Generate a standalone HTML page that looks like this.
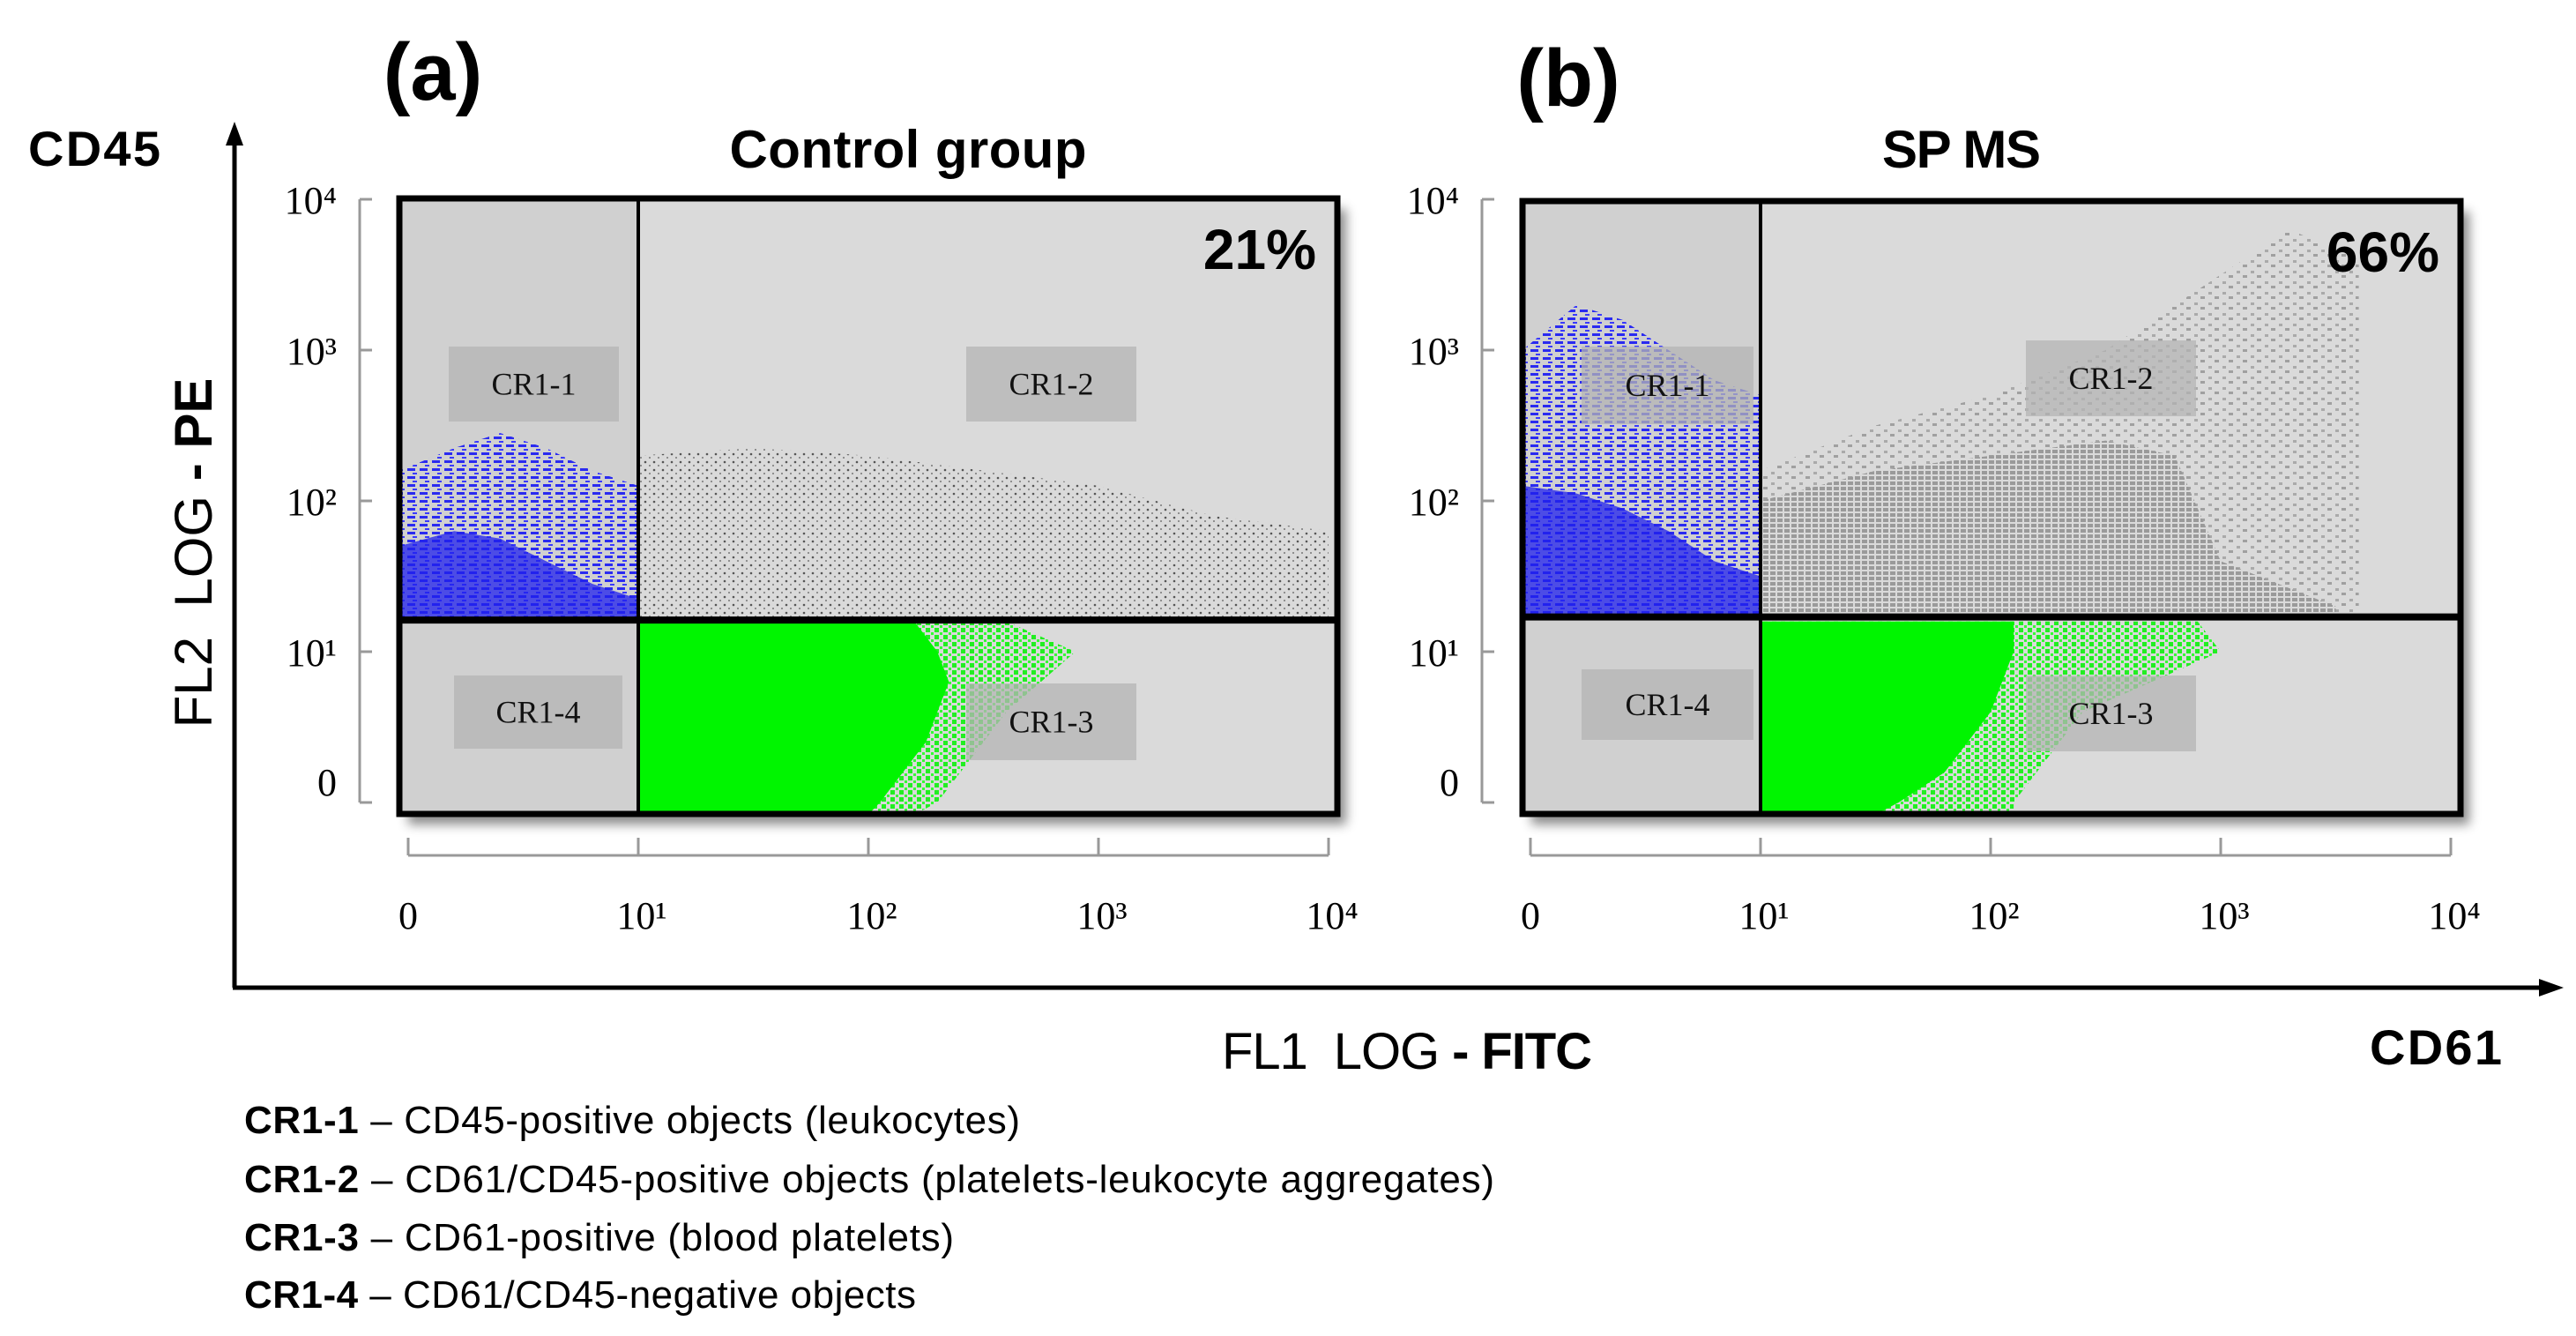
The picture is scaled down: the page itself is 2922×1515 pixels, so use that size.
<!DOCTYPE html>
<html><head><meta charset="utf-8"><style>
html,body{margin:0;padding:0;background:#fff}
svg{display:block}
.t{font-family:"Liberation Sans",sans-serif}
.s{font-family:"Liberation Serif",serif}
</style></head><body>
<svg id="fig" width="2922" height="1515" viewBox="0 0 2922 1515" xmlns="http://www.w3.org/2000/svg">
<defs>
<filter id="sh" x="-5%" y="-5%" width="115%" height="115%"><feDropShadow dx="10" dy="12" stdDeviation="6" flood-color="#000" flood-opacity="0.45"/></filter>
<pattern id="blueDash" width="14" height="9" patternUnits="userSpaceOnUse"><rect x="0" y="0" width="9" height="3" fill="#2a2af0"/><rect x="6" y="5" width="5" height="2" fill="#3a3aff"/></pattern>
<pattern id="grayDot" width="10" height="9" patternUnits="userSpaceOnUse"><circle cx="2" cy="2" r="1.3" fill="#555"/><circle cx="7" cy="6" r="1" fill="#777"/></pattern>
<pattern id="grayDash" width="8" height="6" patternUnits="userSpaceOnUse"><rect x="0" y="0" width="6" height="4" fill="#9a9a9a"/></pattern>
<pattern id="graySparse" width="16" height="12" patternUnits="userSpaceOnUse"><rect x="0" y="0" width="5" height="3" fill="#a0a0a0"/><rect x="9" y="7" width="4" height="3" fill="#aaa"/></pattern>
<pattern id="greenFringe" width="10" height="8" patternUnits="userSpaceOnUse"><rect x="0" y="0" width="5" height="5" fill="#22ee22"/><rect x="6" y="5" width="3" height="3" fill="#33ff33"/></pattern>
</defs>

<text class="t" x="491" y="113" font-size="92" font-weight="bold" text-anchor="middle">(a)</text>
<text class="t" x="1779" y="120" font-size="92" font-weight="bold" text-anchor="middle">(b)</text>
<text class="t" x="32" y="188" font-size="56" font-weight="bold" textLength="150">CD45</text>
<text class="t" x="1030" y="190" font-size="60" font-weight="bold" text-anchor="middle" textLength="405">Control group</text>
<text class="t" x="2225" y="190" font-size="60" font-weight="bold" text-anchor="middle" textLength="180">SP MS</text>

<g>
<line x1="266" y1="1120" x2="266" y2="155" stroke="#000" stroke-width="5"/>
<polygon points="266,138 256,165 276,165" fill="#000"/>
<line x1="264" y1="1120" x2="2890" y2="1120" stroke="#000" stroke-width="5"/>
<polygon points="2908,1120 2880,1110 2880,1130" fill="#000"/>
</g>
<text class="t" transform="translate(240,627) rotate(-90)" font-size="60" text-anchor="middle">FL2&#160;&#160;LOG <tspan font-weight="bold">- PE</tspan></text>
<text class="t" x="1386" y="1212" font-size="58" textLength="420">FL1&#160;&#160;LOG <tspan font-weight="bold">- FITC</tspan></text>
<text class="t" x="2688" y="1207" font-size="56" font-weight="bold" textLength="150">CD61</text>

<g id="panelA"></g>
<g id="panelB"></g>

<g class="t" font-size="44">
<text x="277" y="1285" textLength="880"><tspan font-weight="bold">CR1-1</tspan> – CD45-positive objects (leukocytes)</text>
<text x="277" y="1352" textLength="1418"><tspan font-weight="bold">CR1-2</tspan> – CD61/CD45-positive objects (platelets-leukocyte aggregates)</text>
<text x="277" y="1418" textLength="805"><tspan font-weight="bold">CR1-3</tspan> – CD61-positive (blood platelets)</text>
<text x="277" y="1483" textLength="762"><tspan font-weight="bold">CR1-4</tspan> – CD61/CD45-negative objects</text>
</g>
</svg>
<script>
// ---- data (log10 decades) ----
const tickDecades = [0, 1, 2, 3, 4];
const tickLabels = ["0", "10¹", "10²", "10³", "10⁴"];
const gateX = 1.0;
const gateYA = 1.21;
const gateYB = 1.23;
const pctA = "21%";
const pctB = "66%";
// green (CR1-3) edges per y level
const greenLevels = [1.2, 1.0, 0.8, 0.6, 0.4, 0.2, 0.0, -0.08];
const greenA_solid = [2.2, 2.3, 2.35, 2.3, 2.25, 2.15, 2.05, 2.0];
const greenA_fringe = [2.6, 2.9, 2.75, 2.6, 2.5, 2.4, 2.3, 2.2];
const greenB_solid = [2.1, 2.1, 2.05, 2.0, 1.9, 1.8, 1.6, 1.5];
const greenB_fringe = [2.9, 3.0, 2.7, 2.4, 2.3, 2.2, 2.1, 2.1];
// blue (CR1-1) top edges per x
const blueX = [0, 0.2, 0.4, 0.6, 0.8, 1.0];
const blueA_top = [2.2, 2.35, 2.45, 2.35, 2.2, 2.1];
const blueA_dense = [1.7, 1.8, 1.75, 1.6, 1.45, 1.35];
const blueB_top = [3.0, 3.3, 3.2, 3.0, 2.8, 2.7];
const blueB_dense = [2.1, 2.05, 1.95, 1.8, 1.6, 1.5];
// gray (CR1-2) top edges per x
const grayA_x = [1, 1.5, 2, 2.5, 3, 3.5, 4];
const grayA_top = [2.3, 2.35, 2.3, 2.2, 2.1, 1.9, 1.8];
const grayB_x = [1, 1.5, 2, 2.5, 2.8, 3, 3.5];
const grayB_dense = [2.0, 2.2, 2.3, 2.4, 2.3, 1.6, 1.3];
const grayB_sx = [1, 1.5, 2, 2.5, 3, 3.3, 3.6];
const grayB_sparse = [2.2, 2.5, 2.7, 3.0, 3.5, 3.8, 3.6];

const NS = "http://www.w3.org/2000/svg";
function yS(d){ return 910 - d*171; }
function mk(tag, attrs, parent){ const e=document.createElementNS(NS,tag); for(const k in attrs) e.setAttribute(k, attrs[k]); parent.appendChild(e); return e; }

function drawPanel(g, x0, box, gy, green, fringe, blueTop, blueDense, grayLayers, pct, labels){
  const xS = d => x0 + d*261;
  const [bx1, by1, bx2, by2] = box;
  const c = mk("rect",{x:bx1,y:by1,width:bx2-bx1,height:by2-by1,fill:"#dadada",filter:"url(#sh)"},g);
  
  
  const lc = mk("rect",{x:bx1,y:by1,width:xS(gateX)-bx1,height:by2-by1,fill:"#d0d0d0"},g);
  
  
  grayLayers.forEach(L => {
    let pts = L.x.map((d,i)=>xS(d)+","+yS(L.top[i]));
    pts.push(xS(L.x[L.x.length-1])+","+yS(gy)); pts.push(xS(L.x[0])+","+yS(gy));
    const p = mk("polygon",{points:pts.join(" "),fill:L.fill},g);
    
    
  });
  [[blueTop,"url(#blueDash)"],[blueDense,"#2020ee"]].forEach(([arr,fill],k)=>{
    let pts = blueX.map((d,i)=>xS(d===0?(bx1-x0)/261:d)+","+yS(arr[i]));
    pts.push(xS(gateX)+","+yS(gy)); pts.push(bx1+","+yS(gy));
    const p = mk("polygon",{points:pts.join(" "),fill:fill,opacity:k?0.75:1},g);
    
    
  });
  [[fringe,"url(#greenFringe)"],[green,"#00f500"]].forEach(([arr,fill])=>{
    let pts = [xS(gateX)+","+yS(greenLevels[0])];
    greenLevels.forEach((l,i)=>pts.push(xS(arr[i])+","+yS(l)));
    pts.push(xS(gateX)+","+yS(greenLevels[greenLevels.length-1]));
    const p = mk("polygon",{points:pts.join(" "),fill:fill},g);
    
    
  });
  const gl1 = mk("line",{x1:xS(gateX),y1:by1,x2:xS(gateX),y2:by2,stroke:"#000","stroke-width":4},g);
  
  
  const gl2 = mk("line",{x1:bx1,y1:yS(gy),x2:bx2,y2:yS(gy),stroke:"#000","stroke-width":8},g);
  
  
  const fr = mk("rect",{x:bx1,y:by1,width:bx2-bx1,height:by2-by1,fill:"none",stroke:"#000","stroke-width":7},g);
  
  
  labels.forEach(L=>{
    const r = mk("rect",{x:L[1],y:L[2],width:L[3]-L[1],height:L[4]-L[2],fill:"#b4b4b4",opacity:0.75},g);
    
    
    const t = mk("text",{x:(L[1]+L[3])/2,y:(L[2]+L[4])/2+12,"font-size":36,"text-anchor":"middle",class:"s",fill:"#111"},g);
    t.textContent = L[0];
    
    
  });
  const pt = mk("text",{x:bx2-24,y:by1+80,"font-size":64,"font-weight":"bold","text-anchor":"end",class:"t"},g);
  pt.textContent = pct;
  
  
  const ya = xS(0) - 55;
  const yl = mk("line",{x1:ya,y1:yS(4),x2:ya,y2:yS(0),stroke:"#999","stroke-width":3},g);
  
  
  tickDecades.forEach((d,i)=>{
    const tk = mk("line",{x1:ya,y1:yS(d),x2:ya+14,y2:yS(d),stroke:"#999","stroke-width":3},g);
    
    
    const t = mk("text",{x:ya-26,y:yS(d)+(i===0?-8:16),"font-size":44,"text-anchor":"end",class:"s"},g);
    t.textContent = tickLabels[i];
    
    
  });
  const xl = mk("line",{x1:xS(0),y1:970,x2:xS(4),y2:970,stroke:"#999","stroke-width":3},g);
  
  
  tickDecades.forEach((d,i)=>{
    const tk = mk("line",{x1:xS(d),y1:970,x2:xS(d),y2:950,stroke:"#999","stroke-width":3},g);
    
    
    const t = mk("text",{x:xS(d)+(i?4:0),y:1053,"font-size":44,"text-anchor":"middle",class:"s"},g);
    t.textContent = tickLabels[i];
    
    
  });
}

drawPanel(document.getElementById("panelA"), 463, [453,225,1517,923], gateYA, greenA_solid, greenA_fringe, blueA_top, blueA_dense,
  [{x:grayA_x, top:grayA_top, fill:"url(#grayDot)"}], pctA,
  [["CR1-1",509,393,702,478],["CR1-2",1096,393,1289,478],["CR1-4",515,766,706,849],["CR1-3",1096,775,1289,862]]);
drawPanel(document.getElementById("panelB"), 1736, [1727,228,2791,923], gateYB, greenB_solid, greenB_fringe, blueB_top, blueB_dense,
  [{x:grayB_sx, top:grayB_sparse, fill:"url(#graySparse)"},{x:grayB_x, top:grayB_dense, fill:"url(#grayDash)"}], pctB,
  [["CR1-1",1794,393,1989,481],["CR1-2",2298,386,2491,472],["CR1-4",1794,759,1989,839],["CR1-3",2298,766,2491,852]]);
</script>
</body></html>
